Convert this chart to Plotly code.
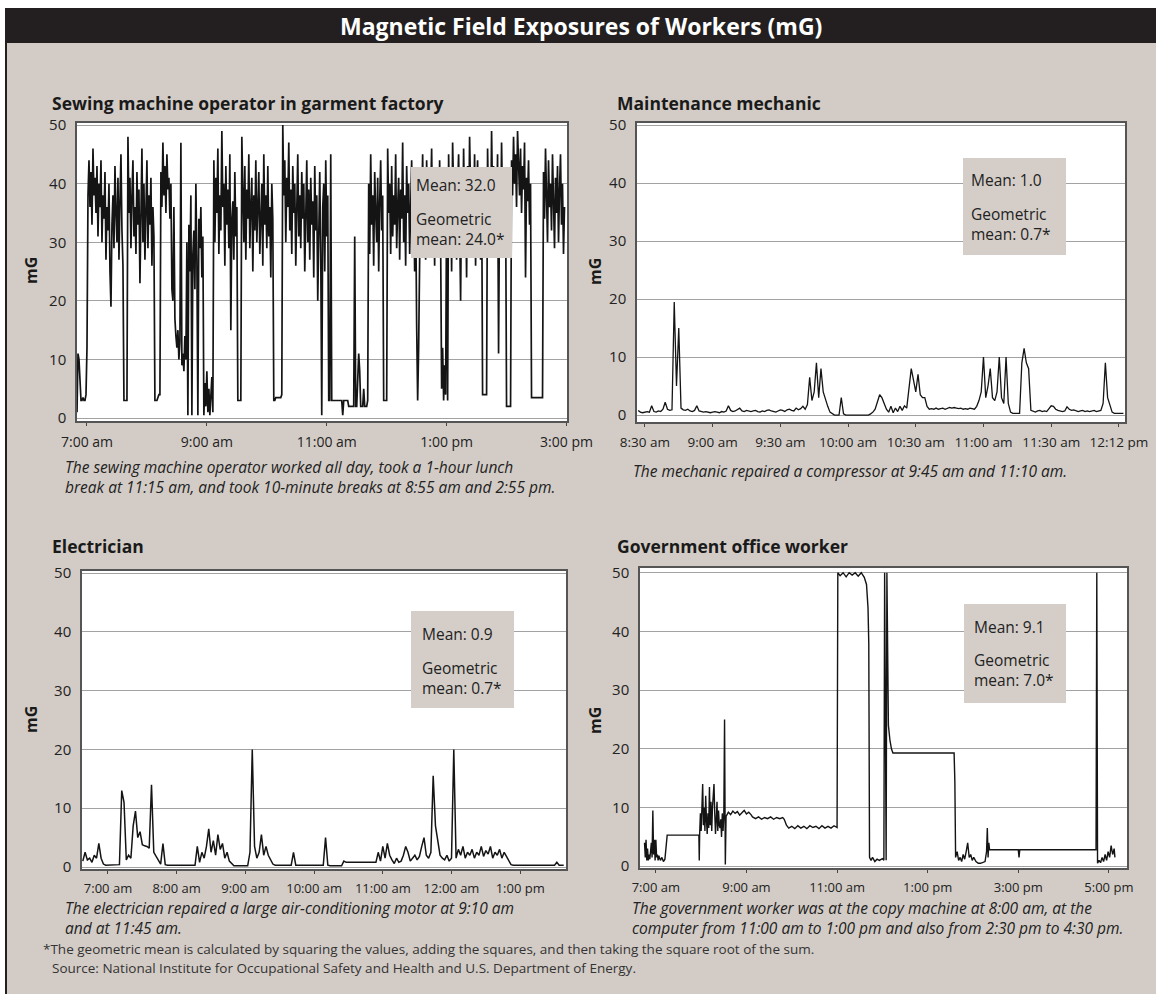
import plotly.graph_objects as go

# ---------------- data (mG readings) ----------------
# Sewing machine operator: one reading per minute, starting 6:50 am (minutes relative to 7:00 am)
SEW_START, SEW_STEP = -10, 1
sew_mg = [
    1, 11, 10, 6, 3, 3, 3.5, 3, 3, 4, 12, 38, 44, 36, 42, 33, 46, 38, 41, 35,
    43, 31, 40, 36, 44, 30, 38, 34, 42, 27, 36, 32, 40, 25, 19, 33, 38, 29, 43, 35,
    30, 41, 27, 37, 45, 32, 26, 3, 3, 3, 3, 48, 35, 41, 29, 38, 44, 31, 36, 28,
    42, 33, 39, 23, 35, 46, 30, 40, 27, 37, 44, 29, 38, 33, 41, 26, 36, 31, 3, 3,
    3, 3.5, 4, 4, 42, 36, 47, 38, 43, 35, 45, 39, 41, 34, 40, 22, 20, 36, 17, 14,
    12, 15, 10, 13, 47, 9, 11, 8, 14, 10, 30, 0.5, 33, 25, 38, 0.5, 28, 32, 22, 40,
    27, 0.5, 34, 29, 36, 24, 31, 0.5, 6, 2, 8, 1, 5, 0.5, 3, 7, 1, 44, 30, 41,
    35, 46, 28, 38, 32, 49, 36, 40, 26, 43, 33, 39, 29, 45, 15, 34, 37, 27, 42, 31,
    36, 3, 3, 3, 3, 48, 38, 30, 43, 27, 39, 34, 45, 29, 36, 41, 25, 38, 32, 44,
    30, 37, 42, 28, 35, 40, 26, 45, 33, 38, 29, 43, 31, 36, 24, 40, 34, 3, 3, 3.5,
    3.5, 3.5, 3.5, 3.5, 3.5, 4, 50, 38, 44, 30, 41, 36, 47, 32, 39, 28, 43, 35, 40, 26,
    37, 45, 31, 38, 29, 42, 34, 40, 25, 36, 44, 30, 39, 27, 41, 33, 37, 24, 43, 32,
    38, 20, 35, 42, 28, 0.5, 36, 40, 25, 44, 31, 38, 3, 3, 45, 3, 3, 3, 3, 3,
    3, 3, 3, 3, 3, 3, 0.5, 3, 3, 3, 3, 3, 2, 2, 2, 2, 2, 2, 31, 2,
    2, 6, 11, 8, 2, 2, 2, 5, 2, 2, 2, 3, 40, 28, 45, 33, 38, 26, 42, 35,
    30, 41, 25, 37, 44, 32, 38, 3, 3, 3, 3, 46, 35, 40, 28, 43, 31, 38, 33, 45,
    29, 36, 41, 27, 39, 34, 47, 30, 38, 26, 43, 35, 40, 28, 37, 44, 30, 39, 25, 36,
    16, 3, 12, 28, 42, 36, 45, 31, 39, 27, 44, 33, 40, 29, 37, 46, 32, 38, 26, 42,
    35, 40, 28, 44, 30, 5, 12, 3, 9, 4, 38, 3, 45, 33, 41, 25, 47, 36, 30, 42,
    27, 39, 45, 33, 20, 40, 29, 46, 35, 38, 24, 43, 31, 48, 37, 29, 41, 34, 45, 26,
    38, 44, 31, 39, 27, 42, 4, 4, 4, 4, 4, 46, 35, 41, 30, 49, 37, 43, 28, 40,
    34, 45, 11, 38, 30, 47, 36, 42, 29, 39, 2, 2, 2, 2, 2, 44, 38, 48, 40, 45,
    36, 49, 42, 38, 46, 35, 43, 39, 47, 24, 41, 37, 44, 33, 40, 3.5, 3.5, 3.5, 3.5, 3.5,
    3.5, 3.5, 3.5, 3.5, 3.5, 3.5, 3.5, 42, 34, 46, 38, 30, 44, 36, 40, 32, 45, 37, 29, 41,
    35, 43, 30, 39, 45, 33, 40, 28, 36,
]
sew_ticks = [0, 120, 240, 360, 480]
sew_labels = ["7:00 am", "9:00 am", "11:00 am", "1:00 pm", "3:00 pm"]

# Maintenance mechanic: one reading per minute (minutes relative to 8:30 am)
MECH_START, MECH_STEP = -3, 1
mech_mg = [
    0.8, 0.5, 0.4, 0.5, 0.6, 0.5, 1.6, 0.6, 0.5, 0.7, 0.6, 1.0, 2.2, 1.0, 0.8, 0.9, 19.5, 5, 15, 1.2,
    0.9, 0.8, 1.0, 0.7, 0.6, 0.8, 1.6, 0.7, 0.6, 0.5, 0.6, 0.5, 0.4, 0.5, 0.6, 0.5, 0.4, 0.6, 0.5, 0.7,
    1.6, 0.8, 0.6, 0.7, 0.9, 1.2, 0.7, 0.6, 0.8, 0.7, 0.6, 0.7, 0.8, 0.6, 0.5, 0.7, 0.6, 0.8, 0.9, 0.7,
    0.6, 0.5, 0.7, 0.9, 0.8, 0.6, 0.9, 1.0, 0.8, 0.7, 1.2, 0.9, 1.1, 1.5, 1.0, 1.8, 6.5, 2.5, 4, 9,
    3, 8, 4, 2.5, 1.5, 0.5, 0.2, 0, 0, 0, 3, 0.2, 0, 0, 0, 0, 0, 0, 0, 0,
    0, 0, 0, 0.2, 0.5, 1, 2.5, 3.5, 3, 2, 1, 0.5, 1.5, 0.4, 1.2, 0.6, 1.5, 0.8, 1.6, 1.2,
    5, 8, 6, 4, 7, 3.5, 3, 3, 1.5, 1.0, 1.1, 1.0, 1.2, 1.0, 1.1, 1.2, 1.0, 1.1, 1.3, 1.2,
    1.3, 1.2, 1.1, 1.2, 1.0, 1.1, 1.0, 1.2, 1.1, 1.0, 1.5, 2.5, 4, 10, 3, 5, 8, 3, 2.5, 4,
    10, 3, 2, 10, 2, 0.5, 0.3, 0.3, 0.3, 0.3, 9, 11.5, 9, 8, 0.8, 0.6, 0.5, 0.7, 0.8, 0.6,
    0.7, 0.6, 1.2, 1.6, 1.5, 1.0, 0.8, 0.7, 0.6, 0.7, 1.4, 1.0, 0.8, 0.9, 0.7, 0.6, 0.7, 0.8, 0.6, 0.7,
    0.6, 0.7, 0.8, 0.6, 0.7, 0.8, 2, 9, 3, 1.5, 0.5, 0.3, 0.3, 0.2, 0.3, 0.3,
]
mech_ticks = [0, 30, 60, 90, 120, 150, 180, 210]
mech_labels = ["8:30 am", "9:00 am", "9:30 am", "10:00 am", "10:30 am", "11:00 am", "11:30 am", "12:12 pm"]

# Electrician: one reading every 2 minutes (minutes relative to 7:00 am)
ELEC_START, ELEC_STEP = -22, 2
elec_mg = [
    1.0, 2.5, 1.2, 1.5, 0.8, 2.0, 1.5, 4.0, 1.5, 0.5,
    0.3, 0.3, 0.3, 0.3, 0.3, 0.3, 0.4, 13, 11, 1.2,
    2.0, 1.5, 7, 9.5, 5, 6, 3.8, 3.6, 3.5, 3.2,
    14, 2.5, 1.8, 1.0, 0.5, 4, 0.4, 0.3, 0.3, 0.3,
    0.3, 0.3, 0.3, 0.3, 0.3, 0.3, 0.3, 0.3, 0.3, 0.3,
    3.5, 0.8, 2.5, 1.5, 3.5, 6.5, 2.5, 4.5, 2.0, 5.5,
    3.0, 4.0, 1.5, 2.5, 1.0, 0.5, 0.2, 0.2, 0.2, 0.2,
    0.2, 0.2, 0.2, 2.5, 20, 3.5, 1.5, 2.5, 5.5, 2.0,
    3.5, 2.0, 1.2, 0.5, 0.3, 0.3, 0.3, 0.3, 0.3, 0.3,
    0.3, 0.3, 2.5, 0.3, 0.3, 0.3, 0.3, 0.3, 0.3, 0.3,
    0.3, 0.3, 0.3, 0.3, 0.3, 0.3, 5, 0.3, 0.2, 0.2,
    0.2, 0.2, 0.2, 0.2, 1.0, 0.8, 0.8, 0.8, 0.8, 0.8,
    0.8, 0.8, 0.8, 0.8, 0.8, 0.8, 0.8, 0.8, 0.8, 2.5,
    1.0, 3.5, 1.5, 4.0, 2.0, 1.2, 0.6, 1.5, 0.8, 1.0,
    2.0, 3.5, 2.5, 1.0, 1.5, 2.0, 1.2, 1.8, 3.5, 5.0,
    2.0, 1.5, 2.5, 15.5, 7, 4.5, 2.0, 1.5, 1.2, 2.0,
    1.0, 1.5, 20, 1.5, 3.0, 2.0, 3.5, 1.5, 2.5, 2.0,
    3.0, 1.5, 2.5, 2.0, 3.5, 1.8, 2.8, 2.2, 3.5, 1.5,
    2.5, 2.0, 3.0, 1.5, 2.5, 1.8, 1.0, 0.4, 0.3, 0.3,
    0.3, 0.3, 0.3, 0.3, 0.3, 0.3, 0.3, 0.3, 0.3, 0.3,
    0.3, 0.3, 0.3, 0.3, 0.3, 0.3, 0.3, 0.8, 0.3, 0.3,
    0.3,
]
elec_ticks = [0, 60, 120, 180, 240, 300, 360]
elec_labels = ["7:00 am", "8:00 am", "9:00 am", "10:00 am", "11:00 am", "12:00 am", "1:00 pm"]

# Government office worker: (minutes relative to 7:00 am, mG) readings
office_t = [
    -15, -14, -13, -12, -11, -10, -9, -8, -6, -5, -4, -3, -2, -1, 0, 1, 2, 3, 4, 6, 8, 10, 12, 13, 15,
    57, 57.5, 58,
    59, 60, 61, 62, 63, 64, 65, 66, 67, 68, 69, 70, 71, 72, 73, 74, 75, 76, 77, 78, 79, 80,
    81, 82, 83, 84, 85, 86, 87, 88, 89, 90, 91, 92,
    93, 96, 99, 102, 105, 108, 111, 114, 117, 120, 123, 126, 128,
    132, 136, 140, 144, 148, 152, 156, 160, 164, 168, 170,
    173, 176, 180, 184, 188, 192, 196, 200, 204, 208, 212, 216, 220, 224, 228, 232, 236, 240,
    241, 244, 248, 252, 256, 260, 264, 268, 272, 276, 279, 281, 282,
    283, 285, 287, 290, 293, 296, 300, 302, 303, 305, 306, 308, 310, 312, 314,
    395, 396, 397,
    399, 401, 403, 405, 407, 409, 411, 413, 415, 417, 419, 421, 424, 427, 430, 433, 436, 438, 439, 440, 441, 442,
    480, 481, 482, 583, 584,
    585, 587, 589, 591, 593, 595, 597, 599, 601, 603, 605, 607, 608,
]
office_mg = [
    4, 1.5, 4.5, 1, 3, 1, 2, 1.2, 4, 1.5, 9.5, 2, 4.5, 1, 4.5, 1.5, 2, 1, 1.8, 1, 1.5, 0.8, 1.2, 3, 5.3,
    5.3, 1, 5.5,
    9, 6, 11, 14, 7, 10, 6, 12, 8, 5.5, 9, 6.5, 13.5, 7, 11, 6, 10, 13, 14, 9, 5.5, 8,
    11, 6, 9.5, 7, 6.5, 8, 5, 9, 6, 8.5, 25, 0.3,
    8.5, 9.2, 8.8, 9.4, 9.0, 9.3, 8.7, 9.1, 9.5, 8.9, 9.2, 8.8, 8.4,
    8.1, 8.4, 8.0, 8.3, 8.1, 8.4, 8.0, 8.3, 8.1, 8.3, 8.0,
    7.0, 6.5, 6.8, 6.4, 6.9, 6.5, 6.8, 6.4, 6.9, 6.6, 6.8, 6.4, 6.9, 6.5, 6.8, 6.5, 6.9, 6.6,
    50, 49.5, 50, 49.3, 50, 49.6, 50, 49.4, 50, 49.2, 48, 44, 38,
    1.5, 1, 1.5, 0.8, 1.2, 1, 1.3, 1, 50, 1, 50, 24, 21.5, 20, 19.3,
    19.3, 14.5, 1.5,
    2.5, 1, 1.5, 0.8, 2, 1.2, 2.5, 4, 1.5, 2, 1, 1.5, 0.8, 0.5, 0.5, 0.6, 0.8, 2.5, 6.5, 1.5, 4, 2.8,
    2.8, 1.5, 2.8, 2.8, 50,
    0.5, 1, 0.6, 1.5, 0.8, 2, 1, 2.5, 1.5, 3.5, 2, 3, 1.5,
]
office_ticks = [0, 120, 240, 360, 480, 600]
office_labels = ["7:00 am", "9:00 am", "11:00 am", "1:00 pm", "3:00 pm", "5:00 pm"]

titles = ["Sewing machine operator in garment factory", "Maintenance mechanic",
          "Electrician", "Government office worker"]
means = ["Mean: 32.0", "Mean: 1.0", "Mean: 0.9", "Mean: 9.1"]
geo_means = ["mean: 24.0*", "mean: 0.7*", "mean: 0.7*", "mean: 7.0*"]
captions = [
    ["The sewing machine operator worked all day, took a 1-hour lunch",
     "break at 11:15 am, and took 10-minute breaks at 8:55 am and 2:55 pm."],
    ["The mechanic repaired a compressor at 9:45 am and 11:10 am."],
    ["The electrician repaired a large air-conditioning motor at 9:10 am",
     "and at 11:45 am."],
    ["The government worker was at the copy machine at 8:00 am, at the",
     "computer from 11:00 am to 1:00 pm and also from 2:30 pm to 4:30 pm."],
]
y_ticks = [0, 10, 20, 30, 40, 50]

# ---------------- figure ----------------
W, H = 1156, 994
BG = "#d3ccc6"
BOX = "#d5cec8"
FONT = "Open Sans"


def fx(px):
    return px / W


def fy(py):
    return 1 - py / H


sew_t = [SEW_START + i * SEW_STEP for i in range(len(sew_mg))]
mech_t = [MECH_START + i * MECH_STEP for i in range(len(mech_mg))]
elec_t = [ELEC_START + i * ELEC_STEP for i in range(len(elec_mg))]

fig = go.Figure()
series = [(sew_t, sew_mg, 1.7), (mech_t, mech_mg, 1.3), (elec_t, elec_mg, 1.5), (office_t, office_mg, 1.4)]
for i, (t, v, lw) in enumerate(series):
    sfx = "" if i == 0 else str(i + 1)
    fig.add_trace(go.Scatter(x=t, y=v, mode="lines", line=dict(color="#141414", width=lw),
                             xaxis="x" + sfx, yaxis="y" + sfx, showlegend=False, hoverinfo="skip"))

# panel geometry in pixels: (left, right, top, bottom)
panels = [(77, 567, 123, 421), (637, 1125, 123, 422), (82, 566, 571, 869), (640, 1127, 568, 868)]
xranges = [[-10, 480.5], [-3.5, 212.7], [-22.7, 400], [-21, 624]]
yranges = [[-0.5, 50.35], [-1.2, 50.35], [-0.34, 50.34], [-0.3, 50.8]]
xticks = [(sew_ticks, sew_labels, 14), (mech_ticks, mech_labels, 13.5),
          (elec_ticks, elec_labels, 13), (office_ticks, office_labels, 13)]

layout = dict(width=W, height=H, autosize=False,
              margin=dict(l=0, r=0, t=0, b=0, pad=0, autoexpand=False),
              paper_bgcolor=BG, plot_bgcolor="white", font=dict(family=FONT, color="#222"),
              showlegend=False)
for i, ((l, r, t, b), xr, yr, (tv, tt, fs)) in enumerate(zip(panels, xranges, yranges, xticks)):
    sfx = "" if i == 0 else str(i + 1)
    layout["xaxis" + sfx] = dict(domain=[fx(l), fx(r)], range=xr, anchor="y" + sfx,
                                 tickvals=tv, ticktext=tt, showgrid=False, zeroline=False,
                                 showline=True, mirror=True, linecolor="#555", linewidth=1.5,
                                 ticks="outside", ticklen=3, tickcolor="#444", ticklabelstandoff=4,
                                 automargin=False,
                                 tickfont=dict(size=fs, color="#222", family=FONT), fixedrange=True)
    layout["yaxis" + sfx] = dict(domain=[fy(b), fy(t)], range=yr, anchor="x" + sfx,
                                 tickvals=y_ticks, showgrid=True, gridcolor="#a2a2a2", gridwidth=1.2,
                                 zeroline=False, showline=True, mirror=True, linecolor="#555",
                                 linewidth=1.5, ticks="", ticklabelstandoff=6, automargin=False,
                                 tickfont=dict(size=15, color="#222", family=FONT), fixedrange=True)

shapes = [
    dict(type="rect", xref="paper", yref="paper", x0=0, x1=fx(6), y0=0, y1=1,
         fillcolor="white", line=dict(width=0), layer="below"),
    dict(type="rect", xref="paper", yref="paper", x0=0, x1=1, y0=fy(8), y1=1,
         fillcolor="white", line=dict(width=0), layer="below"),
    dict(type="rect", xref="paper", yref="paper", x0=fx(5), x1=1, y0=fy(43), y1=fy(8),
         fillcolor="#231f20", line=dict(width=0), layer="below"),
    dict(type="rect", xref="paper", yref="paper", x0=fx(5), x1=fx(7), y0=0, y1=fy(43),
         fillcolor="#231f20", line=dict(width=0), layer="below"),
]
annotations = [
    dict(text="<b>Magnetic Field Exposures of Workers (mG)</b>", x=fx(581), y=fy(26),
         xref="paper", yref="paper", xanchor="center", yanchor="middle", showarrow=False,
         font=dict(size=23, color="white", family=FONT)),
]

title_pos = [(50, 103), (615, 103), (50, 546), (615, 546)]
mg_pos = [(31, 271), (595, 271), (31, 720), (595, 720)]
# box: left, right, top, bottom, text-left, y of "Mean" line, y centre of the two "Geometric mean" lines
boxes = [(411, 512, 167, 258, 414, 185, 229),
         (963, 1066, 158, 255, 969, 180, 224),
         (411, 514, 611, 708, 420, 634, 678),
         (964, 1066, 604, 703, 972, 627, 670)]
cap_pos = [(63, 477), (631, 471), (63, 918), (630, 918)]

for i in range(4):
    tx, ty = title_pos[i]
    annotations.append(dict(text="<b>" + titles[i] + "</b>", x=fx(tx), y=fy(ty), xref="paper", yref="paper",
                            xanchor="left", yanchor="middle", showarrow=False,
                            font=dict(size=17.5, color="#1a1a1a", family=FONT)))
    mx, my = mg_pos[i]
    annotations.append(dict(text="<b>mG</b>", x=fx(mx), y=fy(my), xref="paper", yref="paper",
                            xanchor="center", yanchor="middle", showarrow=False, textangle=-90,
                            font=dict(size=16, color="#1a1a1a", family=FONT)))
    x0, x1, y0, y1, tx0, ym, yg = boxes[i]
    shapes.append(dict(type="rect", xref="paper", yref="paper", x0=fx(x0), x1=fx(x1), y0=fy(y1), y1=fy(y0),
                       fillcolor=BOX, line=dict(width=0), layer="above"))
    annotations.append(dict(text=means[i], x=fx(tx0), y=fy(ym), xref="paper", yref="paper",
                            xanchor="left", yanchor="middle", showarrow=False,
                            font=dict(size=15.5, color="#222", family=FONT)))
    annotations.append(dict(text="Geometric<br>" + geo_means[i], x=fx(tx0), y=fy(yg), xref="paper",
                            yref="paper", xanchor="left", yanchor="middle", align="left", showarrow=False,
                            font=dict(size=15.5, color="#222", family=FONT)))
    cx, cy = cap_pos[i]
    annotations.append(dict(text="<br>".join("<i>" + s + "</i>" for s in captions[i]), x=fx(cx), y=fy(cy),
                            xref="paper", yref="paper", xanchor="left", yanchor="middle", align="left",
                            showarrow=False, font=dict(size=15.5, color="#222", family=FONT)))

footnotes = [
    ("*The geometric mean is calculated by squaring the values, adding the squares, and then taking the square root of the sum.", 41, 949),
    ("Source: National Institute for Occupational Safety and Health and U.S. Department of Energy.", 50, 968),
]
for txt, x, y in footnotes:
    annotations.append(dict(text=txt, x=fx(x), y=fy(y), xref="paper", yref="paper",
                            xanchor="left", yanchor="middle", showarrow=False,
                            font=dict(size=13.5, color="#333", family=FONT)))

layout["shapes"] = shapes
layout["annotations"] = annotations
fig.update_layout(**layout)

fig.write_html("out.html", config={"displayModeBar": False},
               post_script="document.body.style.margin='0';document.body.style.overflow='hidden';")
